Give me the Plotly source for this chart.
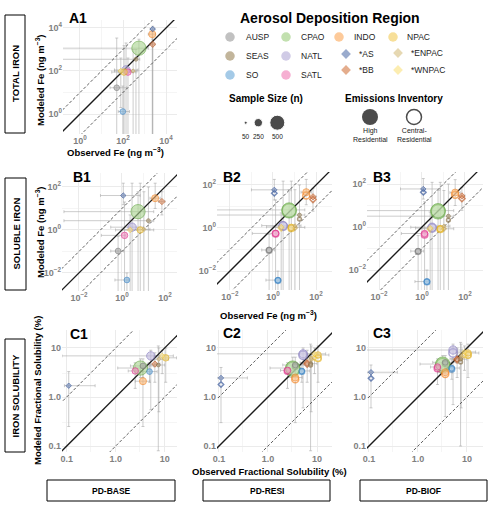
import plotly.graph_objects as go

W, H = 500, 506
FONT = "Liberation Sans, Arial, sans-serif"

# ---------------- data ----------------
REGIONS = ["AUSP", "SEAS", "SO", "CPAO", "NATL", "SATL", "INDO", "*AS", "*BB", "NPAC", "*ENPAC", "*WNPAC"]
SYMBOL = ["circle", "circle", "circle", "circle", "circle", "circle", "circle",
          "diamond", "diamond", "circle", "diamond", "diamond"]
FILL = ["#a6a6a6", "#a89671", "#7db3dd", "#a8d38d", "#bcb5dc", "#f28dbf", "#fcb46f",
        "#6f87b8", "#d98a5c", "#f3d26e", "#dcc891", "#fbe590"]
EDGE = ["#7f7f7f", "#8a7550", "#3f87c7", "#6fae4f", "#8c82c4", "#e0388f", "#f48a2c",
        "#3c5c9e", "#c2602c", "#e6b422", "#c3a45e", "#efcb4f"]
SAMPLE_N = [150, 80, 150, 470, 250, 180, 200, 120, 150, 180, 80, 120]
SIZE_LEGEND_N = [50, 250, 500]

# Total iron (ng m-3)
TOT_OBS = [51, 400, 98, 550, 138, 170, 2290, 2400, 2400, 112, 295, 79]
TOT_OBS_LO = [25, 0.1, 60, 0.1, 40, 60, 1500, 1800, 1800, 30, 150, 40]
TOT_OBS_HI = [150, 600, 200, 1500, 500, 300, 3200, 3000, 3000, 400, 450, 200]
TOT_MOD_BASE = [16.6, 350, 1.3, 1150, 112, 89, 5130, 8900, 1740, 89, 100, 100]
TOT_MOD_LO = [0.05, 0.05, 0.05, 0.05, 0.05, 0.05, 0.05, 0.05, 0.05, 0.05, 0.05, 2]
TOT_MOD_HI = [3400, 1000, 20, 3000, 2000, 400, 7000, 12000, 3000, 1500, 1000, 400]

# Soluble iron (ng m-3)
SOL_OBS = [0.66, 17, 1.7, 5.6, 2.95, 1.32, 35, 1.15, 72, 7.1, 10.5, 2.4]
SOL_OBS_LO = [0.3, 0.002, 0.47, 0.002, 0.3, 0.11, 20, 0.1, 50, 1, 5, 0.5]
SOL_OBS_HI = [1.2, 30, 2.0, 30, 10, 1.5, 60, 7, 100, 30, 20, 6]
SOL_MOD_BASE = [0.105, 2.7, 0.0047, 7.1, 1.35, 0.56, 30, 40, 21, 1.0, 1.07, 1.0]
SOL_MOD_BASE_LO = [0.001, 0.001, 0.001, 0.001, 0.001, 0.001, 10, 15, 5, 0.001, 0.001, 0.001]
SOL_MOD_BASE_HI = [0.5, 100, 0.01, 60, 150, 20, 150, 150, 60, 150, 60, 5]
SOL_MOD_RESI_HIGH = [0.095, 4.0, 0.0038, 6.9, 1.29, 0.56, 46, 59, 28, 1.07, 1.26, 1.12]
SOL_MOD_RESI_CEN = [0.091, 2.6, 0.0036, 6.3, 1.2, 0.54, 32, 41, 21, 0.98, 1.0, 0.98]
SOL_MOD_RESI_LO = [0.001, 0.001, 0.001, 0.001, 0.001, 0.001, 12, 20, 6, 0.001, 0.001, 0.001]
SOL_MOD_RESI_HI = [0.5, 100, 0.01, 60, 150, 20, 180, 180, 70, 150, 60, 5]
SOL_MOD_BIOF_HIGH = [0.076, 3.2, 0.0029, 5.8, 0.98, 0.5, 40, 59, 28, 0.83, 1.1, 0.89]
SOL_MOD_BIOF_CEN = [0.072, 2.1, 0.0028, 5.2, 0.89, 0.44, 32, 41, 21, 0.78, 0.83, 0.78]
SOL_MOD_BIOF_LO = [0.001, 0.001, 0.001, 0.001, 0.001, 0.001, 10, 20, 6, 0.001, 0.001, 0.001]
SOL_MOD_BIOF_HI = [0.4, 100, 0.01, 50, 120, 15, 160, 180, 70, 120, 50, 5]

# Fractional solubility (%)
FS_OBS = [3.6, 7.4, 4.9, 3.2, 5.2, 2.5, 3.6, 0.11, 6.3, 10.5, 7.6, 8.9]
FS_OBS_LO = [2.0, 5, 3.5, 1.1, 0.08, 1.8, 2.5, 0.09, 4.5, 6, 6, 6]
FS_OBS_HI = [6, 10, 7, 4.6, 8, 3.5, 5, 0.38, 8, 17.5, 12, 15]
FS_MOD_BASE = [4.3, 4.5, 3.3, 3.9, 6.9, 3.4, 2.1, 1.7, 4.7, 6.3, 5.9, 6.9]
FS_MOD_BASE_LO = [2.5, 0.08, 2, 2.5, 0.55, 1.5, 0.25, 0.25, 2, 2, 0.5, 3]
FS_MOD_BASE_HI = [6, 11, 5, 6, 9, 5, 4, 3.3, 8, 10, 10, 9]
FS_MOD_RESI_HIGH = [4.5, 4.8, 3.4, 3.9, 7.6, 3.5, 2.5, 2.45, 5.0, 7.2, 6.3, 7.6]
FS_MOD_RESI_CEN = [4.2, 4.5, 3.3, 3.7, 7.1, 3.4, 2.3, 1.8, 4.7, 6.2, 5.9, 6.3]
FS_MOD_RESI_LO = [2.5, 0.08, 2, 2.5, 0.6, 1.5, 0.3, 0.3, 2, 2, 0.5, 3]
FS_MOD_RESI_HI = [6.5, 12, 5, 6.5, 10, 5, 4.5, 4.0, 9, 11, 11, 10]
FS_MOD_BIOF_HIGH = [5.1, 5.9, 3.9, 4.7, 9.1, 4.1, 3.2, 3.2, 6.0, 7.9, 7.1, 8.3]
FS_MOD_BIOF_CEN = [4.8, 5.2, 3.7, 4.4, 7.9, 3.8, 2.95, 2.4, 5.75, 7.2, 6.3, 7.2]
FS_MOD_BIOF_LO = [3, 0.1, 2.3, 3, 0.7, 1.8, 0.4, 0.6, 2.5, 2.5, 0.6, 3.5]
FS_MOD_BIOF_HI = [7, 13, 6, 7, 12, 6, 5.5, 4.5, 10, 12, 12, 11]

BOTTOM_LABELS = ["PD-BASE", "PD-RESI", "PD-BIOF"]
ROW_LABELS = ["TOTAL IRON", "SOLUBLE IRON", "IRON SOLUBILITY"]

# ---------------- helpers ----------------
def rgba(h, a):
    h = h.lstrip("#")
    return f"rgba({int(h[0:2],16)},{int(h[2:4],16)},{int(h[4:6],16)},{a})"

def msize(n, sym="circle"):
    d = 3 + 12 * (n - 50) / 450
    return d * (0.85 if sym == "diamond" else 1.0)

def fx(px):
    return px / W

def fy(py):
    return 1 - py / H

fig = go.Figure()
layout_axes = {}
annotations = []
shapes = []

ERR_COL = "rgba(170,170,170,0.6)"
GRID = "#ebebeb"
TICKFONT = dict(family=FONT, size=9, color="#7f7f7f")

def b(t):
    return f"<b>{t}</b>"

TICKS_TOT = ([1, 100, 10000], [b("10<sup>0</sup>"), b("10<sup>2</sup>"), b("10<sup>4</sup>")], [0.1, 10, 1000])
TICKS_SOL = ([0.01, 1, 100], [b("10<sup>−2</sup>"), b("10<sup>0</sup>"), b("10<sup>2</sup>")], [0.001, 0.1, 10])
TICKS_FS = ([0.1, 1, 10], [b("0.1"), b("1.0"), b("10")], [0.3, 3])

PANELS = [
    dict(lab="A1", xd=(63, 177), yd=(20, 134), xr=(-0.79, 4.51), yr=(-0.93, 4.37), ticks=TICKS_TOT,
         obs=(TOT_OBS, TOT_OBS_LO, TOT_OBS_HI),
         series=[(TOT_MOD_BASE, TOT_MOD_LO, TOT_MOD_HI, "filled")], labpos=(78, 18)),
    dict(lab="B1", xd=(62, 177), yd=(173, 291), xr=(-2.79, 2.56), yr=(-2.84, 2.65), ticks=TICKS_SOL,
         obs=(SOL_OBS, SOL_OBS_LO, SOL_OBS_HI),
         series=[(SOL_MOD_BASE, SOL_MOD_BASE_LO, SOL_MOD_BASE_HI, "filled")], labpos=(82, 177)),
    dict(lab="B2", xd=(217, 332), yd=(172, 290), xr=(-2.6, 2.74), yr=(-2.88, 2.6), ticks=TICKS_SOL,
         obs=(SOL_OBS, SOL_OBS_LO, SOL_OBS_HI),
         series=[(SOL_MOD_RESI_CEN, None, None, "open"),
                 (SOL_MOD_RESI_HIGH, SOL_MOD_RESI_LO, SOL_MOD_RESI_HI, "filled")], labpos=(232, 177)),
    dict(lab="B3", xd=(367, 483), yd=(172, 290), xr=(-2.56, 2.84), yr=(-2.93, 2.56), ticks=TICKS_SOL,
         obs=(SOL_OBS, SOL_OBS_LO, SOL_OBS_HI),
         series=[(SOL_MOD_BIOF_CEN, None, None, "open"),
                 (SOL_MOD_BIOF_HIGH, SOL_MOD_BIOF_LO, SOL_MOD_BIOF_HI, "filled")], labpos=(382, 177)),
    dict(lab="C1", xd=(62, 177), yd=(330, 452), xr=(-1.096, 1.251), yr=(-1.122, 1.367), ticks=TICKS_FS,
         obs=(FS_OBS, FS_OBS_LO, FS_OBS_HI),
         series=[(FS_MOD_BASE, FS_MOD_BASE_LO, FS_MOD_BASE_HI, "filled")], labpos=(79, 334)),
    dict(lab="C2", xd=(217, 332), yd=(330, 452), xr=(-1.04, 1.306), yr=(-1.122, 1.367), ticks=TICKS_FS,
         obs=(FS_OBS, FS_OBS_LO, FS_OBS_HI),
         series=[(FS_MOD_RESI_CEN, None, None, "open"),
                 (FS_MOD_RESI_HIGH, FS_MOD_RESI_LO, FS_MOD_RESI_HI, "filled")], labpos=(232, 333)),
    dict(lab="C3", xd=(367, 483), yd=(330, 452), xr=(-1.04, 1.327), yr=(-1.122, 1.367), ticks=TICKS_FS,
         obs=(FS_OBS, FS_OBS_LO, FS_OBS_HI),
         series=[(FS_MOD_BIOF_CEN, None, None, "open"),
                 (FS_MOD_BIOF_HIGH, FS_MOD_BIOF_LO, FS_MOD_BIOF_HI, "filled")], labpos=(382, 333)),
]

ORDER = sorted(range(len(REGIONS)), key=lambda k: -SAMPLE_N[k])

for i, p in enumerate(PANELS, start=1):
    sfx = "" if i == 1 else str(i)
    xa, ya = "x" + sfx, "y" + sfx
    tv, tt, minor = p["ticks"]
    common = dict(type="log", showgrid=True, gridcolor=GRID, gridwidth=1, zeroline=False,
                  showline=False, ticks="", tickvals=tv, ticktext=tt, tickfont=TICKFONT,
                  minor=dict(tickvals=minor, showgrid=True, gridcolor="#f5f5f5", gridwidth=1, ticks=""))
    layout_axes["xaxis" + sfx] = dict(common, domain=[fx(p["xd"][0]), fx(p["xd"][1])],
                                      range=list(p["xr"]), anchor=ya)
    layout_axes["yaxis" + sfx] = dict(common, domain=[fy(p["yd"][1]), fy(p["yd"][0])],
                                      range=list(p["yr"]), anchor=xa)

    obs, olo, ohi = p["obs"]
    for mod, mlo, mhi, style in p["series"]:
        if mlo is None:
            continue
        fig.add_trace(go.Scatter(
            x=obs, y=mod, xaxis=xa, yaxis=ya, mode="markers",
            marker=dict(size=2, color="rgba(0,0,0,0)"),
            error_x=dict(type="data", symmetric=False,
                         array=[h - o for h, o in zip(ohi, obs)],
                         arrayminus=[o - l for o, l in zip(obs, olo)],
                         color=ERR_COL, thickness=1, width=1.5),
            error_y=dict(type="data", symmetric=False,
                         array=[h - m for h, m in zip(mhi, mod)],
                         arrayminus=[m - l for m, l in zip(mod, mlo)],
                         color=ERR_COL, thickness=1, width=1.5),
            hoverinfo="skip", showlegend=False))

    x0, x1 = 10 ** (p["xr"][0] - 2), 10 ** (p["xr"][1] + 2)
    for f, dash, wd, col in [(1, "solid", 1.3, "#1a1a1a"), (10, "3px,2px", 0.9, "#4d4d4d"),
                             (0.1, "3px,2px", 0.9, "#4d4d4d")]:
        fig.add_trace(go.Scatter(x=[x0, x1], y=[x0 * f, x1 * f], xaxis=xa, yaxis=ya, mode="lines",
                                 line=dict(color=col, width=wd, dash=dash),
                                 hoverinfo="skip", showlegend=False))

    for mod, mlo, mhi, style in p["series"]:
        xs = [obs[k] for k in ORDER]
        ys = [mod[k] for k in ORDER]
        syms = [SYMBOL[k] for k in ORDER]
        sizes = [msize(SAMPLE_N[k], SYMBOL[k]) for k in ORDER]
        if style == "filled":
            fill = [rgba(FILL[k], 0.85) for k in ORDER]
            lw = 1
        else:
            fill = ["rgba(255,255,255,0.7)"] * len(ORDER)
            lw = 1.5
        fig.add_trace(go.Scatter(
            x=xs, y=ys, xaxis=xa, yaxis=ya, mode="markers",
            marker=dict(symbol=syms, size=sizes, color=fill,
                        line=dict(color=[EDGE[k] for k in ORDER], width=lw)),
            hoverinfo="skip", showlegend=False))

    annotations.append(dict(x=fx(p["labpos"][0]), y=fy(p["labpos"][1]), xref="paper", yref="paper",
                            text=b(p["lab"]), showarrow=False, xanchor="center", yanchor="middle",
                            font=dict(family=FONT, size=14, color="black")))

# ---------------- legend (overlay axis in pixel units) ----------------
layout_axes["xaxis8"] = dict(domain=[0, 1], range=[0, W], visible=False, fixedrange=True)
layout_axes["yaxis8"] = dict(domain=[0, 1], range=[H, 0], visible=False, fixedrange=True)

LEG_POS = {
    "AUSP": (230, 37, 244), "SEAS": (230, 56, 244), "SO": (230, 75, 244),
    "CPAO": (286, 37, 299), "NATL": (286, 56, 299), "SATL": (286, 75, 299),
    "INDO": (339, 37, 352), "*AS": (346, 54, 357), "*BB": (346, 70, 357),
    "NPAC": (393, 37, 405), "*ENPAC": (398, 53, 409), "*WNPAC": (398, 70, 409),
}
lx, ly, lsym, lcol, lsz = [], [], [], [], []
for k, r in enumerate(REGIONS):
    mx, my, tx = LEG_POS[r]
    lx.append(mx); ly.append(my); lsym.append(SYMBOL[k]); lcol.append(FILL[k])
    lsz.append(9.5 if SYMBOL[k] == "circle" else 7.5)
    annotations.append(dict(x=fx(tx), y=fy(my), xref="paper", yref="paper", text=r, showarrow=False,
                            xanchor="left", yanchor="middle",
                            font=dict(family=FONT, size=8.5, color="#222222")))
fig.add_trace(go.Scatter(x=lx, y=ly, xaxis="x8", yaxis="y8", mode="markers",
                         marker=dict(symbol=lsym, size=lsz, color=lcol, line=dict(width=0)),
                         hoverinfo="skip", showlegend=False))

SIZE_LEG_X = [245.7, 258.3, 277.3]
fig.add_trace(go.Scatter(x=SIZE_LEG_X, y=[122.7] * 3, xaxis="x8", yaxis="y8", mode="markers",
                         marker=dict(size=[msize(n) for n in SIZE_LEGEND_N], color="black"),
                         hoverinfo="skip", showlegend=False))
for n, sx in zip(SIZE_LEGEND_N, SIZE_LEG_X):
    annotations.append(dict(x=fx(sx), y=fy(136), xref="paper", yref="paper", text=str(n), showarrow=False,
                            xanchor="center", yanchor="middle", font=dict(family=FONT, size=6.5, color="#222")))

fig.add_trace(go.Scatter(x=[370, 414], y=[117, 117], xaxis="x8", yaxis="y8", mode="markers",
                         marker=dict(size=[16, 15], color=["black", "white"],
                                     line=dict(color="black", width=[0, 1.5])),
                         hoverinfo="skip", showlegend=False))
for tx, t in [(370, "High<br>Residential"), (414, "Central-<br>Residential")]:
    annotations.append(dict(x=fx(tx), y=fy(135), xref="paper", yref="paper", text=t, showarrow=False,
                            xanchor="center", yanchor="middle",
                            font=dict(family=FONT, size=7, color="#222")))

for tx, ty, t, sz in [(330, 18, "Aerosol Deposition Region", 14), (266, 98, "Sample Size (n)", 10),
                      (394, 98, "Emissions Inventory", 10)]:
    annotations.append(dict(x=fx(tx), y=fy(ty), xref="paper", yref="paper", text=b(t), showarrow=False,
                            xanchor="center", yanchor="middle", font=dict(family=FONT, size=sz, color="black")))

# ---------------- axis titles ----------------
for tx, ty, t, ang in [(40, 80, "Modeled Fe (ng m<sup>−3</sup>)", -90),
                       (40, 232, "Modeled Fe (ng m<sup>−3</sup>)", -90),
                       (37, 391, "Modeled Fractional Solubility (%)", -90),
                       (115, 152, "Observed Fe (ng m<sup>−3</sup>)", 0),
                       (268, 315, "Observed Fe (ng m<sup>−3</sup>)", 0),
                       (269, 471, "Observed Fractional Solubility (%)", 0)]:
    annotations.append(dict(x=fx(tx), y=fy(ty), xref="paper", yref="paper", text=b(t), showarrow=False,
                            xanchor="center", yanchor="middle", textangle=ang,
                            font=dict(family=FONT, size=9.5, color="black")))

# ---------------- row / column label boxes ----------------
for (x0, x1, y0, y1), t in zip([(5, 25, 15, 133), (5, 26, 178, 290), (5, 25, 339, 452)], ROW_LABELS):
    shapes.append(dict(type="rect", xref="paper", yref="paper", x0=fx(x0), x1=fx(x1), y0=fy(y1), y1=fy(y0),
                       line=dict(color="black", width=1), fillcolor="white"))
    annotations.append(dict(x=fx((x0 + x1) / 2), y=fy((y0 + y1) / 2), xref="paper", yref="paper",
                            text=b(t), showarrow=False, textangle=-90, xanchor="center", yanchor="middle",
                            font=dict(family=FONT, size=9.5, color="black")))
for (x0, x1), t in zip([(47, 175), (203, 330), (360, 487)], BOTTOM_LABELS):
    shapes.append(dict(type="rect", xref="paper", yref="paper", x0=fx(x0), x1=fx(x1), y0=fy(501), y1=fy(480),
                       line=dict(color="black", width=1), fillcolor="white"))
    annotations.append(dict(x=fx((x0 + x1) / 2), y=fy(490.5), xref="paper", yref="paper",
                            text=b(t), showarrow=False, xanchor="center", yanchor="middle",
                            font=dict(family=FONT, size=8.5, color="black")))

fig.update_layout(width=W, height=H, margin=dict(l=0, r=0, t=0, b=0), template="none",
                  paper_bgcolor="white", plot_bgcolor="rgba(0,0,0,0)", showlegend=False,
                  font=dict(family=FONT), annotations=annotations, shapes=shapes, **layout_axes)

fig.write_html("out.html")
